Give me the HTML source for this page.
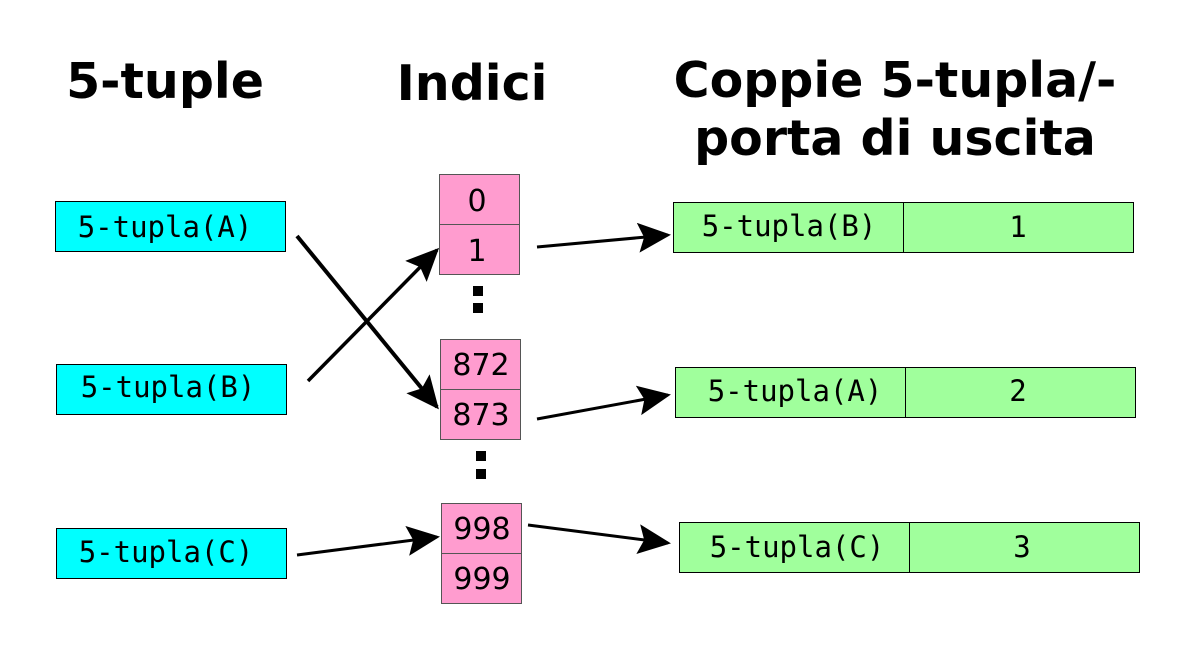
<!DOCTYPE html>
<html><head><meta charset="utf-8"><style>
html,body{margin:0;padding:0;background:#fff;width:1200px;height:645px;overflow:hidden}
</style></head><body>
<svg width="1200" height="645" viewBox="0 0 1200 645" xmlns="http://www.w3.org/2000/svg">
<defs>
<marker id="ah" markerUnits="userSpaceOnUse" markerWidth="40" markerHeight="34" refX="30" refY="15" orient="auto">
<path d="M0,0 L33,15 L0,30 L6,15 Z" fill="#000"/>
</marker>
</defs>
<g font-family="DejaVu Sans, Liberation Sans, sans-serif" font-weight="bold" font-size="49" text-anchor="middle" fill="#000">
<text x="165" y="98">5-tuple</text>
<text x="472" y="100">Indici</text>
<text x="895" y="97">Coppie 5-tupla/-</text>
<text x="895" y="155">porta di uscita</text>
</g>
<g fill="#00ffff" stroke="#000" stroke-width="1">
<rect x="55.5" y="201.5" width="230" height="50"/>
<rect x="56.5" y="364.5" width="230" height="50"/>
<rect x="56.5" y="528.5" width="230" height="50"/>
</g>
<g font-family="DejaVu Sans Mono, Liberation Mono, monospace" font-size="29" text-anchor="middle">
<text x="165" y="237">5-tupla(A)</text>
<text x="168" y="397">5-tupla(B)</text>
<text x="166" y="562">5-tupla(C)</text>
</g>
<g fill="#ff9ccf" stroke="#555" stroke-width="1">
<rect x="439.5" y="174.5" width="80" height="50"/><rect x="439.5" y="224.5" width="80" height="50"/>
<rect x="440.5" y="339.5" width="80" height="50"/><rect x="440.5" y="389.5" width="80" height="50"/>
<rect x="441.5" y="503.5" width="80" height="50"/><rect x="441.5" y="553.5" width="80" height="50"/>
</g>
<g font-family="DejaVu Sans, Liberation Sans, sans-serif" font-size="30" text-anchor="middle">
<text x="477" y="211">0</text><text x="477" y="261">1</text>
<text x="481" y="375">872</text><text x="481" y="425">873</text>
<text x="482" y="539">998</text><text x="482" y="589">999</text>
</g>
<g fill="#000">
<rect x="473" y="286" width="10" height="10"/><rect x="473" y="303" width="10" height="10"/>
<rect x="476" y="451" width="10" height="10"/><rect x="476" y="469" width="10" height="10"/>
</g>
<g fill="#a0ff9c" stroke="#000" stroke-width="1">
<rect x="673.5" y="202.5" width="230" height="50"/><rect x="903.5" y="202.5" width="230" height="50"/>
<rect x="675.5" y="367.5" width="230" height="50"/><rect x="905.5" y="367.5" width="230" height="50"/>
<rect x="679.5" y="522.5" width="230" height="50"/><rect x="909.5" y="522.5" width="230" height="50"/>
</g>
<g font-family="DejaVu Sans Mono, Liberation Mono, monospace" font-size="29" text-anchor="middle">
<text x="789" y="236">5-tupla(B)</text><text x="1018" y="237">1</text>
<text x="795" y="401">5-tupla(A)</text><text x="1018" y="401">2</text>
<text x="797" y="557">5-tupla(C)</text><text x="1022" y="557">3</text>
</g>
<g stroke="#000" fill="none" marker-end="url(#ah)">
<line x1="297" y1="236" x2="437" y2="407" stroke-width="4"/>
<line x1="308" y1="381" x2="437" y2="250" stroke-width="3.5"/>
<line x1="297" y1="555" x2="437" y2="537" stroke-width="3"/>
<line x1="537" y1="247" x2="668" y2="235" stroke-width="3"/>
<line x1="537" y1="419" x2="668" y2="395" stroke-width="3"/>
<line x1="528" y1="525" x2="668" y2="543" stroke-width="3"/>
</g>
</svg>
</body></html>
